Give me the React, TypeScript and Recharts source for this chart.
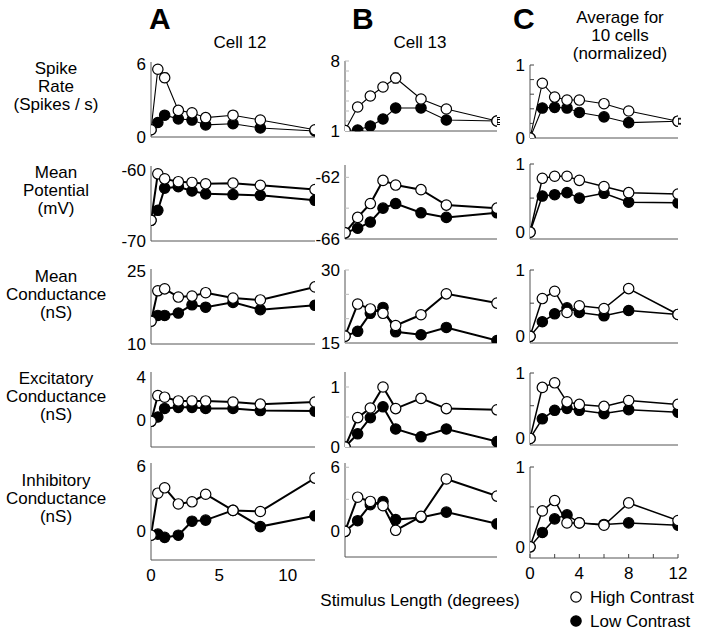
import React from "react";
import { LineChart, Line, XAxis, YAxis, ErrorBar } from "recharts";

// stimulus lengths (degrees)
const xA = [0, 0.5, 1, 2, 3, 4, 6, 8, 12];
const xBC = [0, 1, 2, 3, 4, 6, 8, 12];

// spike rate
const rateHighA = [0.6, 5.6, 4.9, 2.2, 2.0, 1.6, 1.8, 1.4, 0.6];
const rateLowA = [0.6, 1.2, 1.8, 1.5, 1.4, 1.0, 1.1, 0.75, 0.5];
const rateHighErrA = [0, 0.3, 0.4, 0, 0, 0, 0, 0, 0];
const rateHighB = [1.05, 3.4, 4.5, 5.4, 6.3, 4.2, 3.2, 2.0];
const rateLowB = [1.05, 1.1, 1.5, 2.2, 3.3, 3.3, 2.1, 2.0];
const rateHighErrB = [0, 0.4, 0.45, 0.4, 0.5, 0.3, 0.35, 0.35];
const rateLowErrB = [0, 0.1, 0.15, 0.15, 0.2, 0.2, 0.15, 0.15];
const rateHighC = [0, 0.75, 0.56, 0.52, 0.52, 0.47, 0.37, 0.23];
const rateLowC = [0, 0.41, 0.42, 0.41, 0.35, 0.29, 0.21, 0.23];
const rateHighErrC = [0, 0.05, 0.03, 0.03, 0.04, 0.05, 0.04, 0.04];
const rateLowErrC = [0, 0.04, 0.03, 0.03, 0.04, 0.03, 0.03, 0.03];

// mean potential
const vmHighA = [-67.1, -60.6, -61.3, -61.7, -61.8, -62.0, -61.9, -62.2, -62.8];
const vmLowA = [-67.1, -65.7, -62.6, -62.4, -63.0, -63.4, -63.5, -63.6, -64.3];
const vmHighB = [-65.6, -64.6, -63.7, -62.2, -62.5, -62.8, -63.8, -64.0];
const vmLowB = [-65.6, -65.3, -64.9, -64.0, -63.7, -64.3, -64.6, -64.3];
const vmHighC = [0, 0.79, 0.82, 0.82, 0.76, 0.67, 0.58, 0.56];
const vmLowC = [0, 0.53, 0.55, 0.58, 0.5, 0.57, 0.44, 0.43];

// mean conductance
const gHighA = [14.7, 21.0, 21.4, 19.7, 19.9, 20.6, 19.5, 19.1, 21.8];
const gLowA = [14.7, 15.9, 15.9, 16.4, 18.1, 17.6, 18.6, 17.1, 18.0];
const gHighB = [16.4, 23.0, 22.0, 21.1, 18.6, 20.8, 25.1, 23.2];
const gLowB = [16.4, 17.4, 21.1, 22.3, 17.3, 16.7, 18.2, 15.5];
const gHighC = [0, 0.57, 0.68, 0.36, 0.46, 0.42, 0.72, 0.33];
const gLowC = [0, 0.22, 0.34, 0.43, 0.36, 0.31, 0.39, 0.33];

// excitatory conductance
const geHighA = [-0.1, 2.3, 2.15, 1.8, 1.8, 1.8, 1.7, 1.5, 1.7];
const geLowA = [-0.1, 0.3, 1.1, 1.2, 1.2, 1.1, 1.1, 0.9, 0.85];
const geHighB = [0, 0.49, 0.65, 1.0, 0.64, 0.81, 0.64, 0.62];
const geLowB = [0, 0.22, 0.49, 0.67, 0.3, 0.17, 0.3, 0.09];
const geHighC = [0, 0.78, 0.85, 0.56, 0.52, 0.49, 0.58, 0.52];
const geLowC = [0, 0.3, 0.43, 0.46, 0.43, 0.38, 0.44, 0.4];

// inhibitory conductance
const giHighA = [-0.4, 3.5, 4.0, 2.5, 2.7, 3.4, 1.9, 1.8, 4.9];
const giLowA = [-0.4, -0.3, -0.6, -0.4, 0.9, 1.0, 1.9, 0.4, 1.4];
const giHighB = [0, 3.2, 2.8, 2.4, 0.1, 1.4, 4.9, 3.3];
const giLowB = [0, 1.0, 2.5, 2.8, 1.1, 1.3, 1.8, 0.7];
const giHighC = [0, 0.45, 0.58, 0.3, 0.3, 0.27, 0.55, 0.33];
const giLowC = [0, 0.18, 0.35, 0.4, 0.3, 0.28, 0.3, 0.27];

const rowLabels = [
  ["Spike", "Rate", "(Spikes / s)"],
  ["Mean", "Potential", "(mV)"],
  ["Mean", "Conductance", "(nS)"],
  ["Excitatory", "Conductance", "(nS)"],
  ["Inhibitory", "Conductance", "(nS)"],
];

const font = '"Liberation Sans", Arial, Helvetica, sans-serif';
const axisStroke = "#555";
const colLeft = { A: 151, B: 345, C: 530 };
const colWidth = { A: 164, B: 152, C: 148 };

type Kind = "A" | "B" | "C";

type PanelProps = {
  kind: Kind;
  top: number;
  bottom: number;
  xs: number[];
  hi: number[];
  lo: number[];
  hiErr?: number[];
  loErr?: number[];
  domain: [number, number];
  yTicks: number[];
  yLabels: number[];
  xLabels?: number[];
  thin?: boolean;
};

function Panel(p: PanelProps) {
  const data = p.xs.map((x, i) => ({
    x,
    hi: p.hi[i],
    lo: p.lo[i],
    hiErr: p.hiErr ? p.hiErr[i] : 0,
    loErr: p.loErr ? p.loErr[i] : 0,
  }));
  const padL = 50;
  const padT = 12;
  const padR = 12;
  const padB = 12;
  const xAxisH = p.xLabels ? 30 : 1;
  const plotH = p.bottom - p.top;
  const left = colLeft[p.kind];
  const plotW = colWidth[p.kind];
  const isA = p.kind === "A";
  const tickColor = p.kind === "B" ? "#bbb" : "#444";
  const xTicks = isA ? p.xLabels || [0] : [0, 2, 4, 6, 8, 10, 12];
  const lw = p.thin ? 1.1 : p.kind === "C" ? 1.5 : 2;
  const dotW = { r: 5.2, fill: "#fff", stroke: "#000", strokeWidth: 1.2 };
  const dotB = { r: 5.2, fill: "#000", stroke: "#000", strokeWidth: 1.2 };
  const tickStyle = { fill: "#000", fontSize: 17, fontFamily: font };

  return (
    <div style={{ position: "absolute", left: left - padL, top: p.top - padT }}>
      <LineChart
        width={padL + plotW + padR}
        height={padT + plotH + xAxisH + padB}
        data={data}
        margin={{ top: padT, right: padR, bottom: padB, left: 0 }}
      >
        <XAxis
          type="number"
          dataKey="x"
          domain={[0, 12]}
          ticks={xTicks}
          interval={0}
          height={xAxisH}
          allowDataOverflow
          axisLine={{ stroke: axisStroke, strokeWidth: 1 }}
          tickLine={isA ? false : { stroke: tickColor }}
          tickSize={isA ? 0 : -4}
          tickMargin={isA ? 9 : 13}
          tick={p.xLabels ? tickStyle : false}
          tickFormatter={(v: number) => (p.xLabels && p.xLabels.includes(v) ? String(v) : "")}
        />
        <YAxis
          type="number"
          domain={p.domain}
          ticks={p.yTicks}
          interval={0}
          width={padL}
          allowDataOverflow
          axisLine={{ stroke: axisStroke, strokeWidth: 1 }}
          tickLine={isA ? false : { stroke: tickColor }}
          tickSize={isA ? 0 : -4}
          tickMargin={isA ? 5 : 9}
          tick={tickStyle}
          tickFormatter={(v: number) => (p.yLabels.includes(v) ? String(v) : "")}
        />
        <Line dataKey="lo" stroke="#000" strokeWidth={lw} dot={dotB} activeDot={false} isAnimationActive={false}>
          {p.loErr && (
            <ErrorBar dataKey="loErr" direction="y" width={3} stroke="#000" strokeWidth={1} isAnimationActive={false} />
          )}
        </Line>
        <Line dataKey="hi" stroke="#000" strokeWidth={lw} dot={dotW} activeDot={false} isAnimationActive={false}>
          {p.hiErr && (
            <ErrorBar dataKey="hiErr" direction="y" width={3} stroke="#000" strokeWidth={1} isAnimationActive={false} />
          )}
        </Line>
      </LineChart>
    </div>
  );
}

const unitTicks = [0, 0.5, 1];
const unitTicksFine = [0, 0.2, 0.4, 0.6, 0.8, 1];

export default function App() {
  const rowCenters = [86, 190, 294, 396, 498];
  return (
    <div style={{ position: "absolute", left: 0, top: 0, width: 720, height: 630, background: "#fff", fontFamily: font }}>
      {/* row 1: spike rate */}
      <Panel kind="A" top={62} bottom={137} xs={xA} hi={rateHighA} lo={rateLowA} hiErr={rateHighErrA} domain={[0, 6.2]} yTicks={[0, 6]} yLabels={[0, 6]} thin />
      <Panel kind="B" top={61} bottom={131} xs={xBC} hi={rateHighB} lo={rateLowB} hiErr={rateHighErrB} loErr={rateLowErrB} domain={[1, 8]} yTicks={[1, 2, 3, 4, 5, 6, 7, 8]} yLabels={[1, 8]} thin />
      <Panel kind="C" top={65} bottom={138} xs={xBC} hi={rateHighC} lo={rateLowC} hiErr={rateHighErrC} loErr={rateLowErrC} domain={[0, 1]} yTicks={unitTicksFine} yLabels={[0, 1]} thin />

      {/* row 2: mean potential */}
      <Panel kind="A" top={166} bottom={241} xs={xA} hi={vmHighA} lo={vmLowA} domain={[-70, -59.5]} yTicks={[-70, -60]} yLabels={[-70, -60]} />
      <Panel kind="B" top={165} bottom={239} xs={xBC} hi={vmHighB} lo={vmLowB} domain={[-66, -61.2]} yTicks={[-66, -64, -62]} yLabels={[-66, -62]} />
      <Panel kind="C" top={164} bottom={239} xs={xBC} hi={vmHighC} lo={vmLowC} domain={[-0.1, 1]} yTicks={unitTicks} yLabels={[0, 1]} />

      {/* row 3: mean conductance */}
      <Panel kind="A" top={269} bottom={344} xs={xA} hi={gHighA} lo={gLowA} domain={[10, 25.5]} yTicks={[10, 25]} yLabels={[10, 25]} />
      <Panel kind="B" top={270} bottom={343} xs={xBC} hi={gHighB} lo={gLowB} domain={[15, 30]} yTicks={[15, 20, 25, 30]} yLabels={[15, 30]} />
      <Panel kind="C" top={270} bottom={343} xs={xBC} hi={gHighC} lo={gLowC} domain={[-0.1, 1]} yTicks={unitTicks} yLabels={[0, 1]} />

      {/* row 4: excitatory conductance */}
      <Panel kind="A" top={372} bottom={447} xs={xA} hi={geHighA} lo={geLowA} domain={[-2.5, 4.5]} yTicks={[0, 4]} yLabels={[0, 4]} />
      <Panel kind="B" top={372} bottom={447} xs={xBC} hi={geHighB} lo={geLowB} domain={[0, 1.25]} yTicks={[0, 0.5, 1]} yLabels={[0, 1]} />
      <Panel kind="C" top={373} bottom={445} xs={xBC} hi={geHighC} lo={geLowC} domain={[-0.1, 1]} yTicks={unitTicks} yLabels={[0, 1]} />

      {/* row 5: inhibitory conductance */}
      <Panel kind="A" top={463} bottom={560} xs={xA} hi={giHighA} lo={giLowA} domain={[-2.7, 6.3]} yTicks={[0, 6]} yLabels={[0, 6]} xLabels={[0, 5, 10]} />
      <Panel kind="B" top={463} bottom={557} xs={xBC} hi={giHighB} lo={giLowB} domain={[-2.4, 6.4]} yTicks={[0, 3, 6]} yLabels={[0, 6]} />
      <Panel kind="C" top={467} bottom={558} xs={xBC} hi={giHighC} lo={giLowC} domain={[-0.14, 1]} yTicks={unitTicks} yLabels={[0, 1]} xLabels={[0, 4, 8, 12]} />

      <svg width={720} height={630} style={{ position: "absolute", left: 0, top: 0, pointerEvents: "none" }} fontFamily={font}>
        <text x={149} y={29} fontSize={30} fontWeight="bold">A</text>
        <text x={352} y={29} fontSize={30} fontWeight="bold">B</text>
        <text x={513} y={29} fontSize={30} fontWeight="bold">C</text>
        <text x={240} y={48} fontSize={17} textAnchor="middle">Cell 12</text>
        <text x={420} y={48} fontSize={17} textAnchor="middle">Cell 13</text>
        <text x={620} y={23} fontSize={17} textAnchor="middle">Average for</text>
        <text x={620} y={41} fontSize={17} textAnchor="middle">10 cells</text>
        <text x={620} y={59} fontSize={17} textAnchor="middle">(normalized)</text>
        {rowLabels.map((lines, r) =>
          lines.map((s, i) => (
            <text key={`${r}-${i}`} x={56} y={rowCenters[r] + (i - 1) * 18 + 6} fontSize={17} textAnchor="middle">
              {s}
            </text>
          ))
        )}
        <text x={420} y={606} fontSize={17} textAnchor="middle">Stimulus Length (degrees)</text>
        <circle cx={576} cy={597} r={5.2} fill="#fff" stroke="#000" strokeWidth={1.2} />
        <text x={590} y={603} fontSize={17}>High Contrast</text>
        <circle cx={576} cy={621} r={5.2} fill="#000" stroke="#000" strokeWidth={1.2} />
        <text x={590} y={627} fontSize={17}>Low Contrast</text>
      </svg>
    </div>
  );
}
